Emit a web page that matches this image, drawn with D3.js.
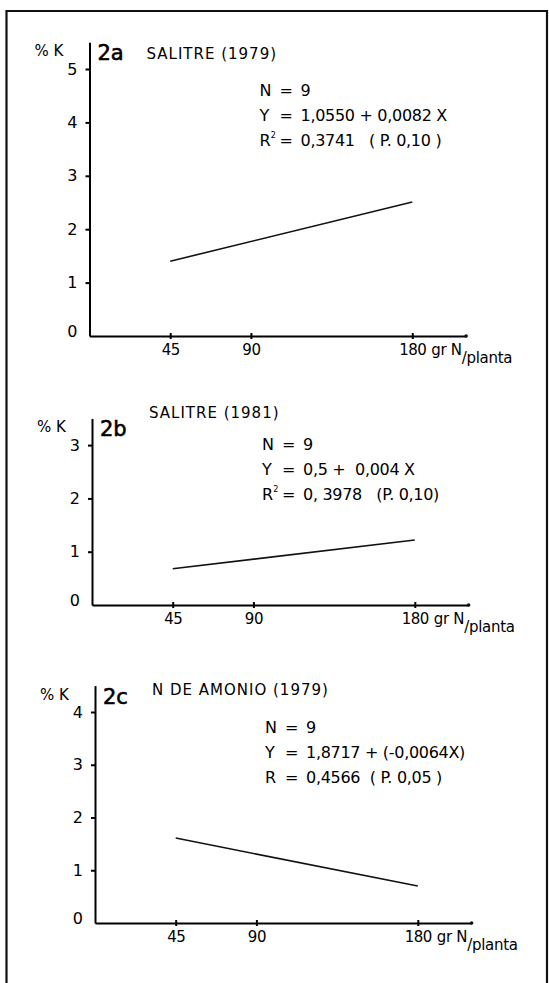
<!DOCTYPE html>
<html>
<head>
<meta charset="utf-8">
<script src="https://cdn.jsdelivr.net/npm/d3@7"></script>
<style>
body { margin: 0; background: #fff; }
text { font-family: "DejaVu Sans", sans-serif; fill: #000; white-space: pre; }
</style>
</head>
<body>
<svg id="fig" width="549" height="983"></svg>
<script>
// values
var panelIds = ["2a", "2b", "2c"];
var panelTitles = ["SALITRE (1979)", "SALITRE (1981)", "N DE AMONIO (1979)"];
var xTicks = [45, 90, 180];
var doses = [45, 180];
var kSalitre79 = [1.40, 2.51];
var kSalitre81 = [0.68, 1.22];
var kAmonio79 = [1.61, 0.70];
var yMaxTicks = [5, 3, 4];
var eqN = ["9", "9", "9"];
var eqY = ["1,0550 + 0,0082 X", "0,5 +  0,004 X", "1,8717 + (-0,0064X)"];
var eqRLabel = ["R", "R", "R"];
var eqRSup = ["2", "2", ""];
var eqR = ["0,3741   ( P. 0,10 )", "0, 3978   (P. 0,10)", "0,4566  ( P. 0,05 )"];

var series = [kSalitre79, kSalitre81, kAmonio79];

// where each panel sits on the page
var layout = [
    {x0: 89.5, y0: 336, unit: 53.4, titleDy: 17, eqDy: 54},
    {x0: 92, y0: 605, unit: 53.3, titleDy: 0, eqDy: 32},
    {x0: 95, y0: 923, unit: 52.75, titleDy: 9, eqDy: 47}
];
var xUnit = 80.7 / 45;

var svg = d3.select("#fig");

svg.append("rect")
    .attr("width", 549).attr("height", 983)
    .attr("fill", "#fff");

// outer frame, bottom runs off the page
svg.append("path")
    .attr("d", "M6.5,1000 L6.5,11 L547,11 L547,1000")
    .attr("fill", "none")
    .attr("stroke", "#111")
    .attr("stroke-width", 2.2);

panelIds.forEach(function(id, p) {
    var L = layout[p];
    var top = L.y0 - L.unit * (yMaxTicks[p] + 0.5);

    var x = d3.scaleLinear().domain([0, 210]).range([L.x0, L.x0 + 210 * xUnit]);
    var y = d3.scaleLinear().domain([0, yMaxTicks[p] + 0.5]).range([L.y0, top]);

    var g = svg.append("g").attr("class", "panel" + p);

    // y axis
    var yAxis = g.append("g")
        .attr("transform", "translate(" + L.x0 + ",0)")
        .call(d3.axisLeft(y)
            .tickValues(d3.range(0, yMaxTicks[p] + 1))
            .tickFormat(d3.format("d"))
            .tickSize(4)
            .tickSizeOuter(0)
            .tickPadding(8));
    yAxis.select(".domain").attr("stroke-width", 2);
    yAxis.selectAll(".tick line").attr("stroke-width", 2);
    yAxis.selectAll(".tick text")
        .style("font-size", "16px")
        .style("font-family", "DejaVu Sans")
        .attr("y", function(d) { return d === 0 ? -5 : 0; });
    yAxis.selectAll(".tick").filter(function(d) { return d === 0; }).select("line").remove();

    // x axis
    var xAxis = g.append("g")
        .attr("transform", "translate(0," + L.y0 + ")")
        .call(d3.axisBottom(x)
            .tickValues(xTicks)
            .tickSize(3)
            .tickSizeOuter(0)
            .tickPadding(5));
    xAxis.select(".domain").attr("stroke-width", 2);
    xAxis.selectAll(".tick line").attr("y1", -3).attr("stroke-width", 2);
    xAxis.selectAll(".tick text")
        .style("font-size", "15px")
        .style("font-family", "DejaVu Sans")
        .style("letter-spacing", "-0.5px");
    g.append("circle")
        .attr("cx", x(210)).attr("cy", L.y0)
        .attr("r", 1.8).attr("fill", "#111");

    // unit after 180
    var unitLabel = g.append("text")
        .attr("x", x(180) + 19)
        .attr("y", L.y0 + 19)
        .style("font-size", "15px")
        .style("letter-spacing", "-0.3px")
        .text("gr N");
    unitLabel.append("tspan")
        .attr("dy", 8)
        .text("/planta");

    // regression line
    var line = d3.line()
        .x(function(d, i) { return x(doses[i]); })
        .y(function(d) { return y(d); });
    g.append("path")
        .datum(series[p])
        .attr("d", line)
        .attr("fill", "none")
        .attr("stroke", "#111")
        .attr("stroke-width", 1.6);

    // labels
    g.append("text")
        .attr("x", L.x0 - 55)
        .attr("y", top + 14)
        .style("font-size", "15px")
        .text("% K");

    g.append("text")
        .attr("x", L.x0 + 8)
        .attr("y", top + 18)
        .style("font-size", "21px")
        .attr("stroke", "#000")
        .attr("stroke-width", 0.6)
        .text(id);

    g.append("text")
        .attr("x", L.x0 + 57)
        .attr("y", top + L.titleDy)
        .style("font-size", "15px")
        .style("letter-spacing", "1px")
        .text(panelTitles[p]);

    // regression statistics
    var ex = L.x0 + 170, ey = top + L.eqDy;
    var rows = [
        {lab: "N", sup: "", val: eqN[p]},
        {lab: "Y", sup: "", val: eqY[p]},
        {lab: eqRLabel[p], sup: eqRSup[p], val: eqR[p]}
    ];
    rows.forEach(function(r, i) {
        var by = ey + i * 25;
        var t = g.append("text")
            .attr("x", ex).attr("y", by)
            .style("font-size", "16px")
            .text(r.lab);
        if (r.sup) {
            t.append("tspan")
                .attr("dy", -8)
                .style("font-size", "8px")
                .text(r.sup);
        }
        g.append("text")
            .attr("x", ex + 20).attr("y", by)
            .style("font-size", "16px")
            .text("=");
        g.append("text")
            .attr("x", ex + 41).attr("y", by)
            .style("font-size", "16px")
            .style("letter-spacing", "-0.3px")
            .text(r.val);
    });
});
</script>
</body>
</html>
